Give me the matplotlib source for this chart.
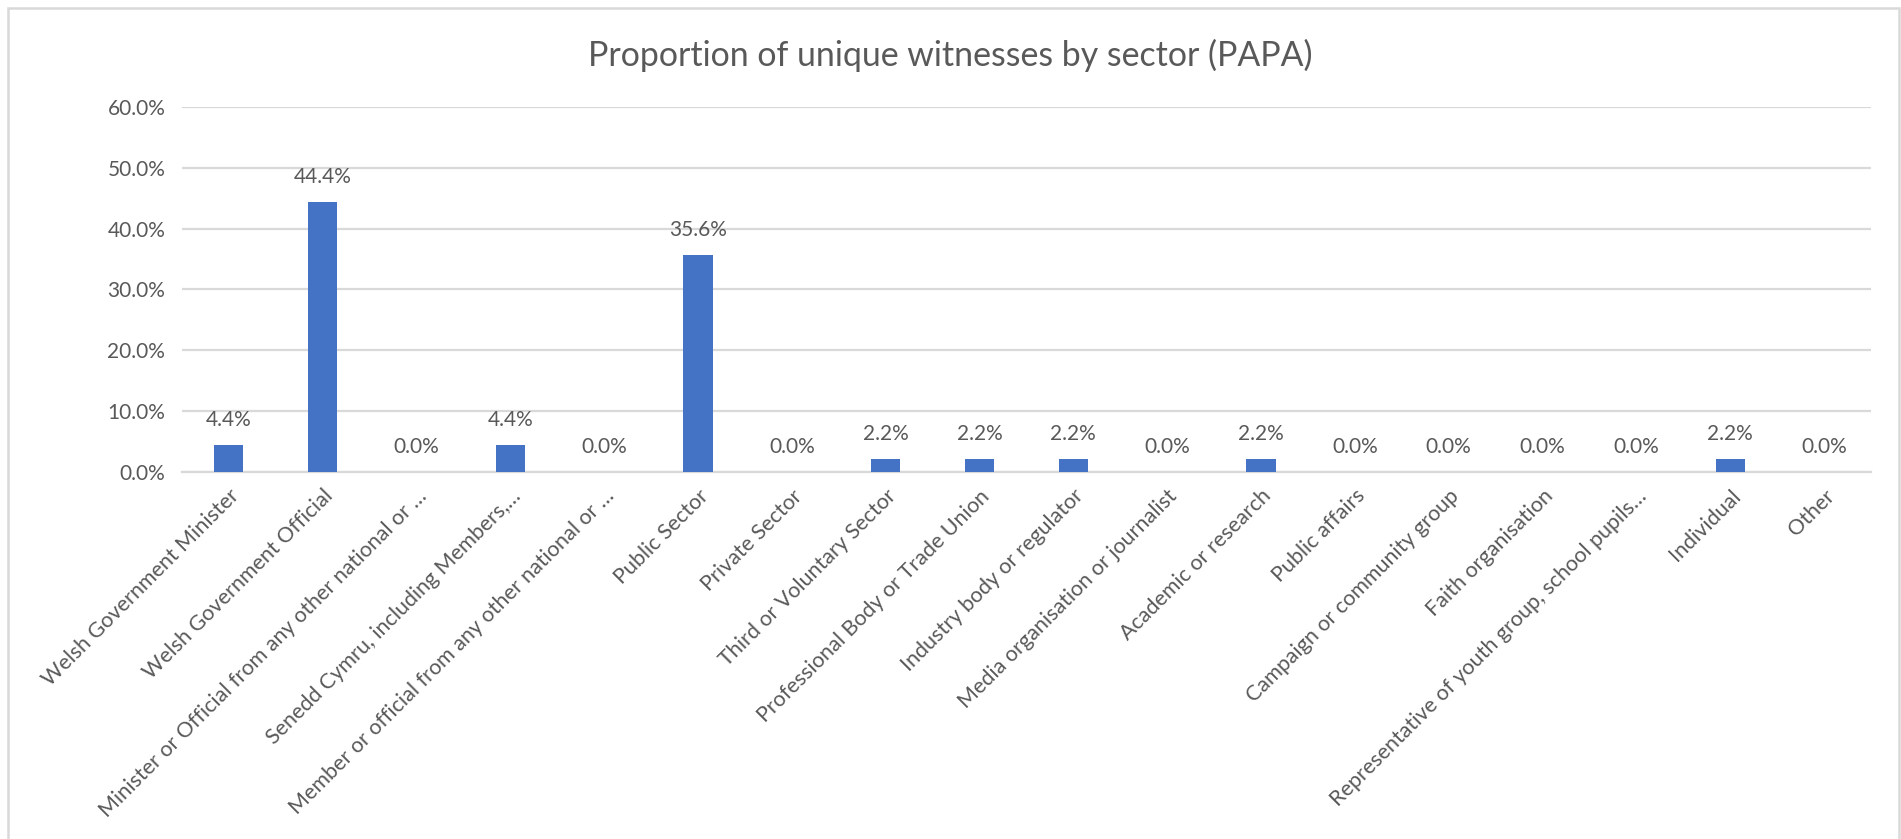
import matplotlib.pyplot as plt
from matplotlib.patches import Rectangle
from matplotlib.ticker import FuncFormatter

plt.rcParams['font.family'] = ['Lato', 'DejaVu Sans']

sectors = [
    "Welsh Government Minister",
    "Welsh Government Official",
    "Minister or Official from any other national or …",
    "Senedd Cymru, including Members,…",
    "Member or official from any other national or …",
    "Public Sector",
    "Private Sector",
    "Third or Voluntary Sector",
    "Professional Body or Trade Union",
    "Industry body or regulator",
    "Media organisation or journalist",
    "Academic or research",
    "Public affairs",
    "Campaign or community group",
    "Faith organisation",
    "Representative of youth group, school pupils…",
    "Individual",
    "Other",
]
share = [4.4, 44.4, 0.0, 4.4, 0.0, 35.6, 0.0, 2.2, 2.2, 2.2, 0.0, 2.2, 0.0, 0.0, 0.0, 0.0, 2.2, 0.0]

grey_text = "#595959"
grid_col = "#d9d9d9"
bar_col = "#4472c4"

fig = plt.figure(figsize=(19.01, 8.39), dpi=100)
ax = fig.add_axes([0.0957, 0.4374, 0.8885, 0.4351])

x = range(len(sectors))
bars = ax.bar(x, share, width=0.31, color=bar_col, zorder=3)

ax.set_xlim(-0.5, len(sectors) - 0.5)
ax.set_ylim(0, 60)
ax.set_yticks(range(0, 61, 10))
ax.yaxis.set_major_formatter(FuncFormatter(lambda v, p: f"{v:.1f}%"))
ax.grid(axis="y", color=grid_col, linewidth=1.6, zorder=0)

for side in ["top", "right", "left"]:
    ax.spines[side].set_visible(False)
ax.spines["bottom"].set_color(grid_col)
ax.spines["bottom"].set_linewidth(1.6)
ax.tick_params(axis="both", length=0, colors=grey_text, labelsize=15)
ax.tick_params(axis="y", pad=12)

ax.set_xticks(list(x))
ax.set_xticklabels(sectors, rotation=45, ha="right", rotation_mode="anchor",
                   fontsize=15.5)
ax.tick_params(axis="x", pad=10)

# value labels above each bar
for b, v in zip(bars, share):
    ax.annotate(f"{v:.1f}%", (b.get_x() + b.get_width() / 2, v),
                xytext=(0, 18), textcoords="offset points",
                ha="center", va="center", fontsize=15, color=grey_text)

fig.text(0.5, 0.934, "Proportion of unique witnesses by sector (PAPA)",
         ha="center", va="center", fontsize=24.4, color=grey_text)

# chart area border
fig.patches.append(Rectangle((8 / 1901, -0.05), 1891 / 1901, 1.05 - 8 / 839,
                             transform=fig.transFigure, fill=False,
                             edgecolor=grid_col, linewidth=1.8))

fig.savefig("out.png", dpi=100, facecolor="white")
